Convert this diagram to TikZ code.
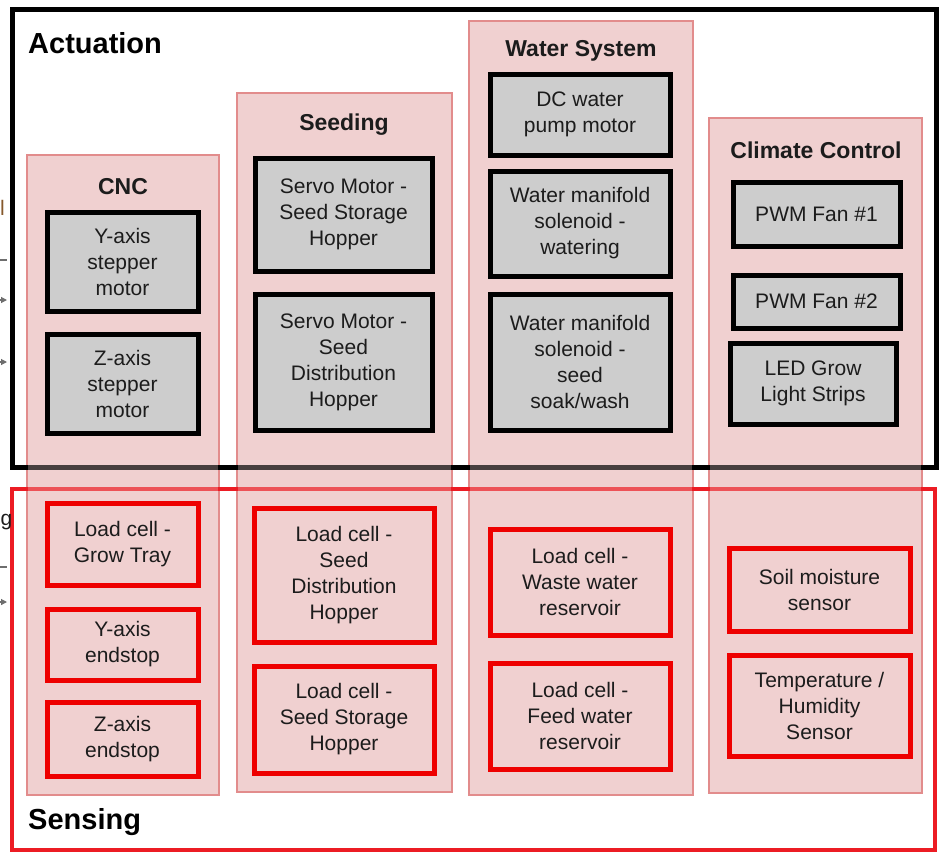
\documentclass[tikz,border=0pt]{standalone}
\usepackage{fontspec}
\setmainfont{Liberation Sans}
\usetikzlibrary{arrows.meta}
\definecolor{colfill}{RGB}{240,208,208}
\definecolor{colline}{RGB}{226,140,140}
\definecolor{grayfill}{RGB}{205,205,205}
\definecolor{redline}{RGB}{238,0,0}
\definecolor{outerred}{RGB}{236,28,36}
\definecolor{txt}{RGB}{28,28,28}
\definecolor{stubgray}{RGB}{110,110,110}
\newcommand\bodyfont{\fontsize{21}{26}\selectfont}
\newcommand\headfont{\fontsize{23}{28}\selectfont\bfseries}
\newcommand\titlefont{\fontsize{29}{34}\selectfont\bfseries}
% \mybox{style}{name}{x1}{x2}{y1}{y2}{text}
\newcommand\mybox[7]{\node[#1, minimum width={#4-#3}, minimum height={#6-#5}] (#2) at ({(#3+#4)/2},{(#5+#6)/2}) {#7};}
\tikzset{
  colbox/.style={rectangle, draw=colline, line width=1.2pt, fill=colfill, inner sep=0pt},
  coltint/.style={rectangle, fill=colfill, fill opacity=0.3, inner sep=0pt},
  actbox/.style={rectangle, draw=black, line width=5pt, fill=grayfill, align=center, text=txt, font=\bodyfont, inner sep=0pt},
  senbox/.style={rectangle, draw=redline, line width=5pt, fill=colfill, align=center, text=txt, font=\bodyfont, inner sep=0pt},
  actframe/.style={rectangle, draw=black, line width=5pt, inner sep=0pt},
  senframe/.style={rectangle, draw=outerred, line width=4pt, inner sep=0pt},
  head/.style={font=\headfont, text=txt, inner sep=0pt},
  title/.style={font=\titlefont, text=black, inner sep=0pt, anchor=west},
  stub/.style={draw=stubgray, line width=1.2pt},
  stubarrow/.style={stub, -{Triangle[length=6pt,width=6pt]}}
}
\begin{document}
\begin{tikzpicture}[x=1pt,y=-1pt]
\useasboundingbox (0,0) rectangle (941,854);
\clip (0,0) rectangle (941,854);
% columns (opaque background)
\mybox{colbox}{cnc}{27}{219}{155}{795}{}
\mybox{colbox}{seed}{237}{452}{93}{792}{}
\mybox{colbox}{water}{469}{693}{21}{795}{}
\mybox{colbox}{climate}{709}{922}{118}{793}{}
% outer frames
\mybox{actframe}{actuation}{12}{936}{9}{467}{}
\mybox{senframe}{sensing}{12}{935}{489}{850}{}
% translucent tint of the columns over the frame lines
\mybox{coltint}{cnctint}{27.6}{218.4}{155.6}{794.4}{}
\mybox{coltint}{seedtint}{237.6}{451.4}{93.6}{791.4}{}
\mybox{coltint}{watertint}{469.6}{692.4}{21.6}{794.4}{}
\mybox{coltint}{climtint}{709.6}{921.4}{118.6}{792.4}{}
\node[title] (actlabel) at (28,43) {Actuation};
\node[title] (senlabel) at (28,822) {Sensing};
\node[head] (cnchead) at (123,187) {CNC};
\node[head] (seedhead) at (344,125) {Seeding};
\node[head] (waterhead) at (581,51) {Water System};
\node[head] (climhead) at (816,150) {Climate Control};
% actuation boxes
\mybox{actbox}{ystep}{47}{198}{212}{311}{Y-axis\\stepper\\motor}
\mybox{actbox}{zstep}{47}{198}{334}{433}{Z-axis\\stepper\\motor}
\mybox{actbox}{servostore}{255}{432}{158}{271}{Servo Motor -\\Seed Storage\\Hopper}
\mybox{actbox}{servodist}{255}{432}{294}{430}{Servo Motor -\\Seed\\Distribution\\Hopper}
\mybox{actbox}{pump}{490}{670}{74}{155}{DC water\\pump motor}
\mybox{actbox}{solwater}{490}{670}{171}{276}{Water manifold\\solenoid -\\watering}
\mybox{actbox}{solsoak}{490}{670}{294}{430}{Water manifold\\solenoid -\\seed\\soak/wash}
\mybox{actbox}{fan1}{733}{900}{182}{246}{PWM Fan \#1}
\mybox{actbox}{fan2}{733}{900}{275}{328}{PWM Fan \#2}
\mybox{actbox}{led}{730}{896}{343}{424}{LED Grow\\Light Strips}
% sensing boxes
\mybox{senbox}{lctray}{47}{198}{503}{585}{Load cell -\\Grow Tray}
\mybox{senbox}{yend}{47}{198}{609}{680}{Y-axis\\endstop}
\mybox{senbox}{zend}{47}{198}{702}{776}{Z-axis\\endstop}
\mybox{senbox}{lcdist}{254}{434}{508}{642}{Load cell -\\Seed\\Distribution\\Hopper}
\mybox{senbox}{lcstore}{254}{434}{666}{773}{Load cell -\\Seed Storage\\Hopper}
\mybox{senbox}{lcwaste}{490}{670}{529}{635}{Load cell -\\Waste water\\reservoir}
\mybox{senbox}{lcfeed}{490}{670}{663}{769}{Load cell -\\Feed water\\reservoir}
\mybox{senbox}{soil}{729}{910}{548}{631}{Soil moisture\\sensor}
\mybox{senbox}{temp}{729}{910}{655}{756}{Temperature /\\Humidity\\Sensor}
% fragments at the left edge
\node[font=\bodyfont, text=brown!70!black, anchor=base west, inner sep=0pt] (fragl) at (0,215) {l};
\node[font=\bodyfont, text=txt, anchor=base west, inner sep=0pt] (fragg) at (0.5,525) {g};
\coordinate (s1a) at (-4,260); \coordinate (s1b) at (7,260);
\coordinate (s2a) at (-4,300); \coordinate (s2b) at (7,300);
\coordinate (s3a) at (-4,362); \coordinate (s3b) at (7,362);
\coordinate (s4a) at (-4,567); \coordinate (s4b) at (7,567);
\coordinate (s5a) at (-4,602); \coordinate (s5b) at (7,602);
\draw[stub] (s1a) -- (s1b);
\draw[stubarrow] (s2a) -- (s2b);
\draw[stubarrow] (s3a) -- (s3b);
\draw[stub] (s4a) -- (s4b);
\draw[stubarrow] (s5a) -- (s5b);
\end{tikzpicture}
\end{document}
